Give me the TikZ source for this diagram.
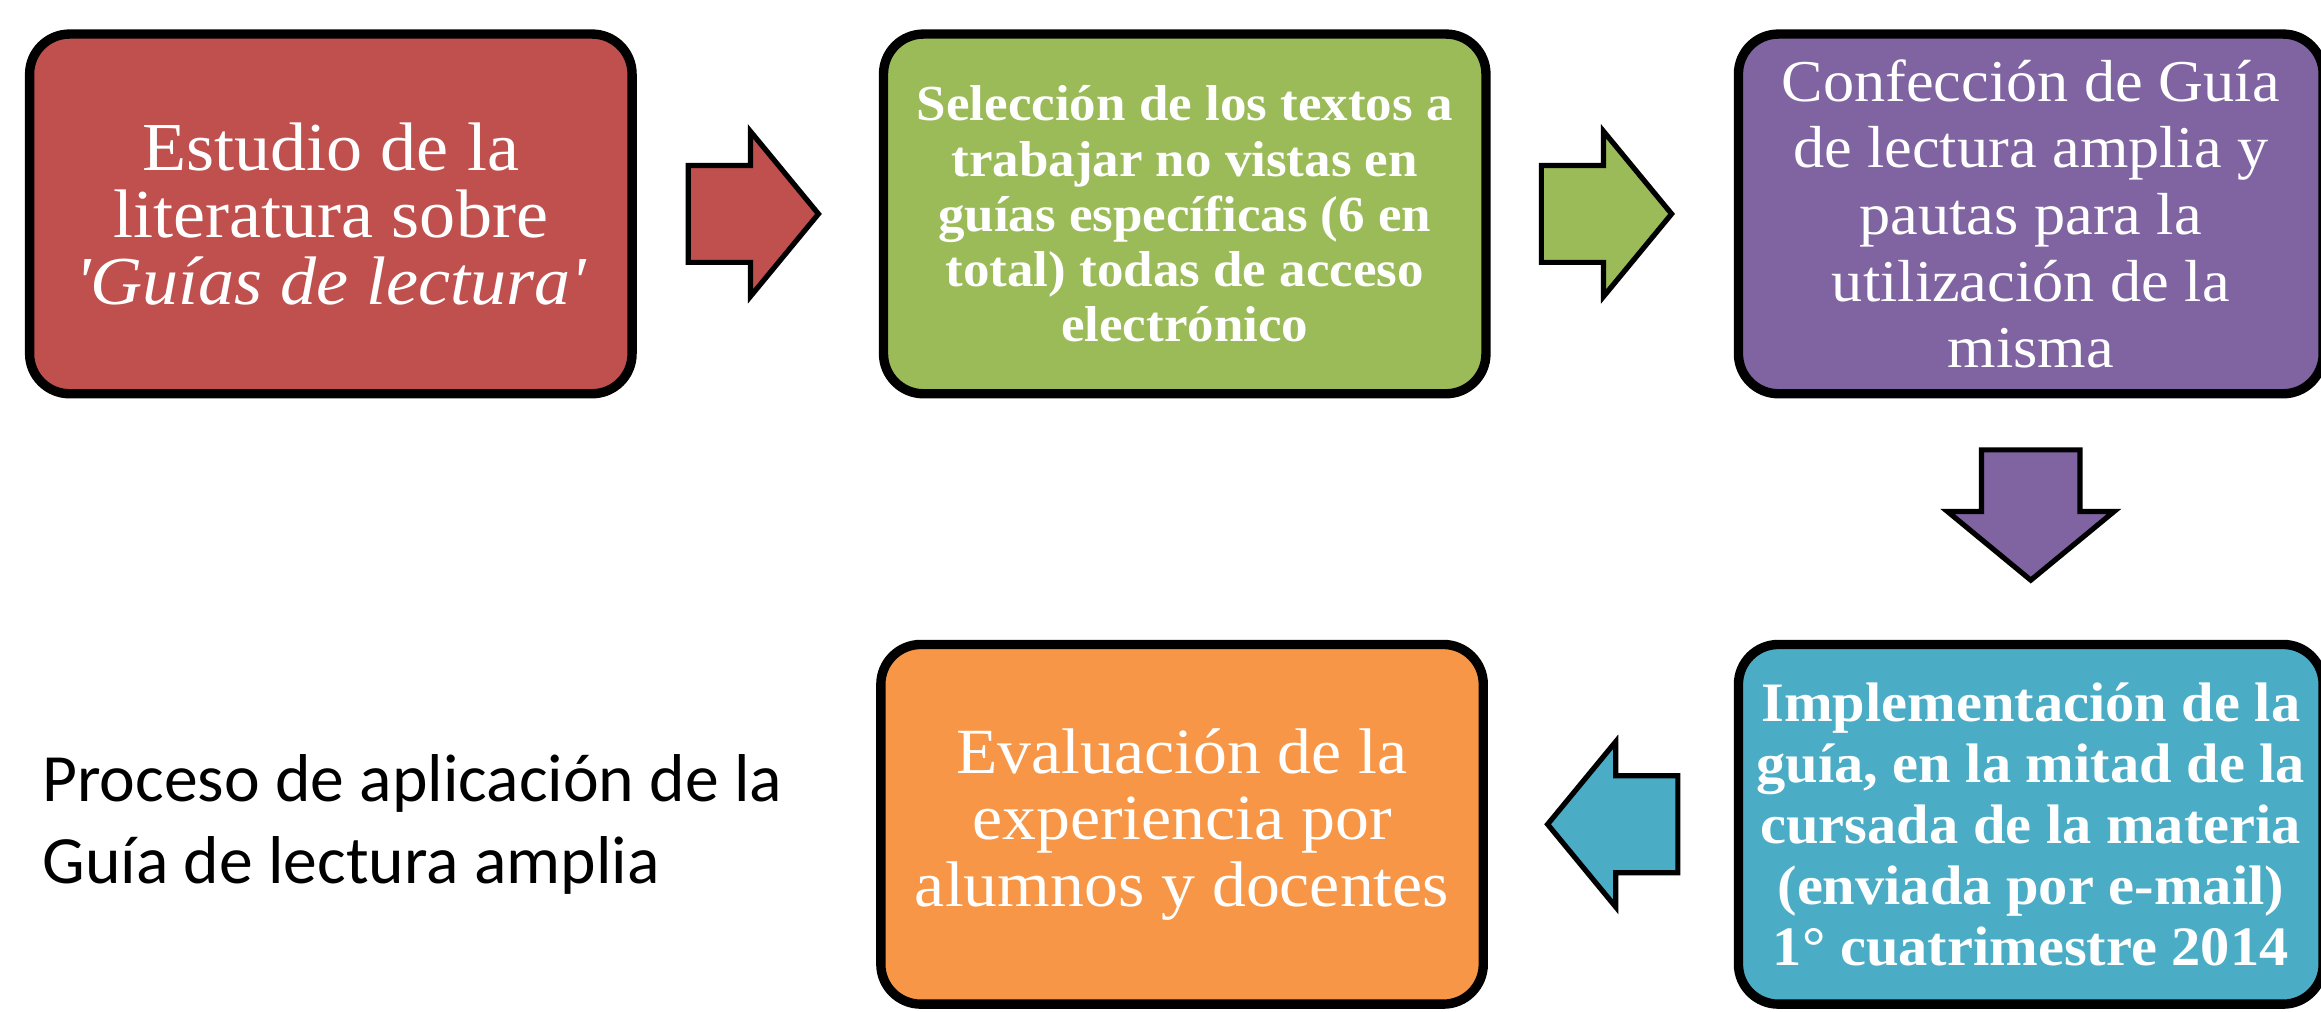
\documentclass[tikz,border=0pt]{standalone}
\usepackage{fontspec}
\usepackage{xcolor}
\usepackage{tikz}
\usetikzlibrary{positioning,shapes.arrows}

\newfontfamily\boxfont[FakeStretch=1.05]{Liberation Serif}
\newfontfamily\notefont{Carlito}

\definecolor{stageRed}{HTML}{C0504D}
\definecolor{stageGreen}{HTML}{9BBB59}
\definecolor{stagePurple}{HTML}{8064A2}
\definecolor{stageTeal}{HTML}{4BACC6}
\definecolor{stageOrange}{HTML}{F79646}

\begin{document}
\begin{tikzpicture}
    \tikzstyle{stage} = [rectangle, rounded corners=0.27cm, draw=black, line width=1.8pt, minimum width=4.07cm, minimum height=2.43cm, inner sep=0pt, text=white, align=center, font=\boxfont\fontsize{12.4}{12.8}\selectfont]
    \tikzstyle{stagebold} = [stage, font=\boxfont\bfseries\fontsize{9.7}{10.6}\selectfont]
    \tikzstyle{blockarrow} = [single arrow, draw=black, line width=1pt, minimum height=0.88cm, minimum width=1.08cm, single arrow head extend=0.23cm, single arrow tip angle=101, inner sep=0pt]

    \useasboundingbox (0,0) rectangle (15.68,6.83);

    % Top row
    \node [stage, fill=stageRed, font=\boxfont\fontsize{13.2}{12.9}\selectfont] (estudio) at (2.235,5.385) {Estudio de la\\literatura sobre\\\textit{\textquotesingle Guías de lectura\textquotesingle}};
    \node [blockarrow, fill=stageRed, right=0.33cm of estudio, anchor=tail] (arrA) {\rule{0pt}{0.62cm}};
    \node [stagebold, fill=stageGreen, right=0.385cm of arrA.tip, anchor=west] (seleccion) {Selección de los textos a\\trabajar no vistas en\\guías específicas (6 en\\total) todas de acceso\\electrónico};
    \node [blockarrow, fill=stageGreen, right=0.325cm of seleccion, anchor=tail] (arrB) {\rule{0pt}{0.62cm}};
    \node [stage, fill=stagePurple, minimum width=3.95cm, font=\boxfont\fontsize{11.4}{12.8}\selectfont, right=0.397cm of arrB.tip, anchor=west] (confeccion) {Confección de Guía\\de lectura amplia y\\pautas para la\\utilización de la\\misma};

    % Going down
    \node [blockarrow, fill=stagePurple, shape border rotate=270, minimum width=1.07cm, below=0.33cm of confeccion, anchor=tail] (arrC) {\rule{0.63cm}{0pt}};

    % Bottom row
    \node [stagebold, fill=stageTeal, minimum width=3.95cm, font=\boxfont\bfseries\fontsize{10.7}{11.7}\selectfont, below=0.38cm of arrC.tip, anchor=north] (implementacion) {Implementación de la\\guía, en la mitad de la\\cursada de la materia\\(enviada por e-mail)\\1° cuatrimestre 2014};
    \node [blockarrow, fill=stageTeal, shape border rotate=180, left=0.36cm of implementacion, anchor=tail] (arrD) {\rule{0pt}{0.62cm}};
    \node [stage, fill=stageOrange, left=0.38cm of arrD.tip, anchor=east] (evaluacion) {Evaluación de la\\experiencia por\\alumnos y docentes};

    % Caption
    \node [anchor=west, inner sep=0pt, align=left, font=\notefont\fontsize{13}{15.9}\selectfont] (titulo) at (0.28,1.26) {Proceso de aplicación de la\\Guía de lectura amplia};

\end{tikzpicture}
\end{document}
